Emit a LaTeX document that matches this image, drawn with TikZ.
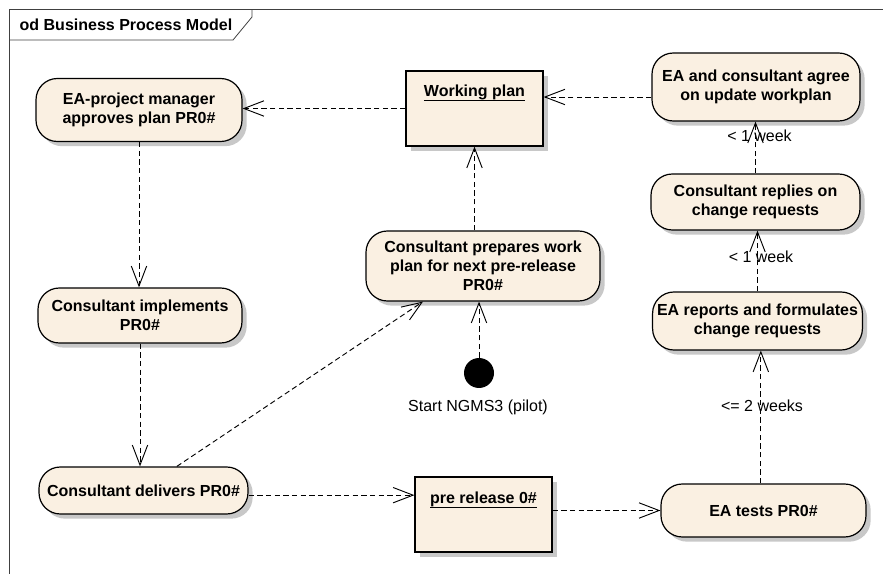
\documentclass[tikz,border=0pt]{standalone}
\usepackage{fontspec}
\setmainfont{Liberation Sans}
\usetikzlibrary{arrows.meta,shadows}
\definecolor{cream}{RGB}{250,240,226}
\definecolor{shade}{RGB}{200,200,200}
\newcommand{\objname}[1]{\setbox0\hbox{#1}\leavevmode\rlap{\rule[-\dimexpr\dp0+1pt\relax]{\wd0}{1.1pt}}\box0}

\begin{document}
\begin{tikzpicture}[x=0.75pt, y=-0.75pt,
  act/.style={draw, line width=0.9pt, fill=cream, rounded corners=16pt, align=center,
    font=\fontsize{12}{14.25}\selectfont\bfseries,
    drop shadow={shadow xshift=3.5pt, shadow yshift=-3.5pt, fill=shade, opacity=1}},
  obj/.style={draw, line width=0.9pt, fill=cream, minimum width=102.75pt, minimum height=56.25pt,
    drop shadow={shadow xshift=3.5pt, shadow yshift=-3.5pt, fill=shade, opacity=1}},
  objtext/.style={font=\fontsize{12}{14.25}\selectfont\bfseries, inner sep=1pt},
  flow/.style={line width=0.7pt, dash pattern=on 4pt off 2.5pt, -{Straight Barb[length=15pt,width=11.5pt]}},
  note/.style={font=\fontsize{12}{14.25}\selectfont, inner sep=1pt}]

\useasboundingbox (0,0) rectangle (883,574);

% Diagram frame with its title tab.
\draw[line width=0.6pt, black!75] (9.5,574) -- (9.5,9.5) -- (883,9.5);
\draw[line width=0.6pt, black!75] (9.5,40) -- (233,40) -- (252,17) -- (252,9.5);
\node (title) [anchor=west, font=\fontsize{12}{14.25}\selectfont\bfseries] at (15,25) {od Business Process Model};

% Activities and objects.
\node (A) [act, minimum width=154.5pt, minimum height=47.25pt] at (139,110) {EA-project manager\\approves plan PR0\#};
\node (work) [obj, label={[objtext, yshift=11.6pt]center:\objname{Working plan}}] at (474.5,108.5) {};
\node (agree) [act, minimum width=156pt, minimum height=51pt] at (756,87) {EA and consultant agree\\on update workplan};
\node (reply) [act, minimum width=156.75pt, minimum height=42pt] at (755.5,202) {Consultant replies on\\change requests};
\node (report) [act, minimum width=153.75pt, minimum height=43.5pt] at (757.5,321) {EA reports and formulates\\change requests};
\node (prep) [act, minimum width=175.5pt, minimum height=52.5pt] at (483,266) {Consultant prepares work\\plan for next pre-release\\PR0\#};
\node (start) [circle, fill=black, minimum size=22.5pt, inner sep=0pt] at (479,373) {};
\node (startlbl) [note] at (478,407) {Start NGMS3 (pilot)};
\node (impl) [act, minimum width=153pt, minimum height=41.25pt] at (140,315.5) {Consultant implements\\PR0\#};
\node (deliv) [act, minimum width=156.75pt, minimum height=35.25pt] at (143.5,490.5) {Consultant delivers PR0\#};
\node (pre) [obj, label={[objtext, yshift=10.9pt]center:\objname{pre release 0\#}}] at (483.5,514.5) {};
\node (tests) [act, minimum width=153.75pt, minimum height=39.75pt] at (763.5,510.5) {EA tests PR0\#};

% Flows.
\draw[flow] (work.west) -- (work.west -| A.east);
\draw[flow] ([yshift=-7.5pt]agree.west) -- ([yshift=-7.5pt]agree.west -| work.east);
\draw[flow] (prep.north -| work.south) -- (work.south);
\draw[flow] (start) -- (start |- prep.south);
\draw[flow] (A.south) -- (A.south |- impl.north);
\draw[flow] (impl.south) -- (impl.south |- deliv.north);
\draw[flow] ([xshift=25pt]deliv.north) -- ([xshift=-45pt]prep.south);
\draw[flow] ([yshift=-3.5pt]deliv.east) -- ([yshift=-3.5pt]deliv.east -| pre.west);
\draw[flow] (tests.west -| pre.east) -- (tests.west);
\draw[flow] ([xshift=-2pt]tests.north) -- ([xshift=-2pt]tests.north |- report.south);
\draw[flow] (report.north) -- (report.north |- reply.south);
\draw[flow] (reply.north) -- (reply.north |- agree.south);

% Time labels.
\node (wk1) [note] at (759.5,136) {< 1 week};
\node (wk2) [note] at (761,257) {< 1 week};
\node (wk3) [note] at (762,406) {<= 2 weeks};

\end{tikzpicture}
\end{document}
